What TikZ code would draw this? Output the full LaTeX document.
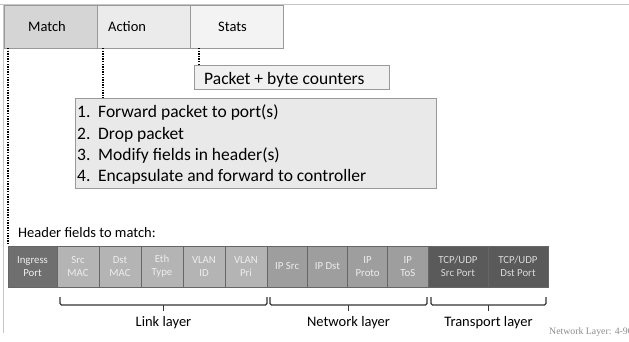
\documentclass[tikz,border=0pt]{standalone}
\usepackage{fontspec}
\setmainfont{Carlito}
\newfontfamily\footfont{Liberation Serif}
\usetikzlibrary{calc}

\definecolor{frameline}{HTML}{C6C6C6}
\definecolor{matchfill}{HTML}{D5D5D5}
\definecolor{actionfill}{HTML}{EBEBEB}
\definecolor{statsfill}{HTML}{F3F3F3}
\definecolor{tabborder}{HTML}{999999}
\definecolor{countfill}{HTML}{F0F0F0}
\definecolor{listfill}{HTML}{E9E9E9}
\definecolor{ingressfill}{HTML}{6F6F6F}
\definecolor{linkfill}{HTML}{B4B4B4}
\definecolor{ipfill}{HTML}{9E9E9E}
\definecolor{tcpfill}{HTML}{5A5A5A}
\definecolor{footgray}{HTML}{8C8C8C}

\tikzset{
  tabcell/.style={draw=tabborder, line width=0.8pt, minimum height=43,
    anchor=north west, inner sep=0, outer sep=0},
  tablabel/.style={anchor=base west, inner sep=0, font=\fontsize{14.5}{17}\selectfont},
  infobox/.style={draw=tabborder, line width=0.8pt, anchor=north west,
    inner sep=0, outer sep=0},
  bigtext/.style={anchor=base west, inner sep=0, font=\fontsize{17.5}{21}\selectfont},
  dotline/.style={line width=1.8pt, dash pattern=on 1.3pt off 1.3pt, black},
  field/.style={fill=#1, draw=black!60, line width=0.7pt, minimum height=41,
    anchor=north west, inner sep=0, outer sep=0, align=center,
    font=\fontsize{10.8}{13}\selectfont, text=white!93!black},
  bracket/.style={draw=black!80, line width=1.1pt, rounded corners=1.5pt},
  layerlabel/.style={anchor=base, inner sep=0, font=\fontsize{14.5}{17}\selectfont},
}

\newcommand\layerbrace[4]{%
  \draw[bracket] (#1) -- ++(0,8) -| (#2);
  \coordinate (#4) at ($(#1)!0.5!(#2)+(0,8)$);
  \draw[bracket] (#4) -- ++(0,6);
  \node[layerlabel] (#4text) at ($(#4)+(0,21)$) {#3};
}

\begin{document}
\begin{tikzpicture}[x=1pt, y=-1pt]
\useasboundingbox (0,0) rectangle (629,341);
\clip (0,0) rectangle (629,341);

% slide frame
\draw[frameline, line width=0.8pt] (0,4.5) -- (629,4.5);
\draw[frameline, line width=0.8pt] (3,4.5) -- (3,333);

% flow table entry
\node[tabcell, fill=matchfill,  minimum width=93] (match)  at (4,5) {};
\node[tabcell, fill=actionfill, minimum width=93] (action) at (match.north east) {};
\node[tabcell, fill=statsfill,  minimum width=93] (stats)  at (action.north east) {};
\node[tablabel] (matchtext)  at (28,31.5)  {Match};
\node[tablabel] (actiontext) at (108,31.5) {Action};
\node[tablabel] (statstext)  at (218,31.5) {Stats};

% counters and action list
\node[infobox, fill=countfill, minimum width=195, minimum height=24] (counters) at (194,65) {};
\node[bigtext] (countertext) at (204,84) {Packet + byte counters};

\node[infobox, fill=listfill, minimum width=361, minimum height=90] (actions) at (75,98) {};
\foreach \n/\txt [count=\i] in {1/Forward packet to port(s), 2/Drop packet,
    3/Modify fields in header(s), 4/Encapsulate and forward to controller}{
  \node[bigtext] (item\i) at (77,{117.7+21.3*(\i-1)})
    {\makebox[21pt][l]{\n.}\txt};
}

% header fields
\node[tablabel] (hdrtext) at (18,237.5) {Header fields to match:};
\node[field=ingressfill, minimum width=49] (ingress) at (8,246) {Ingress\\Port};
\node[field=linkfill, minimum width=42] (srcmac) at (ingress.north east) {Src\\MAC};
\node[field=linkfill, minimum width=42] (dstmac) at (srcmac.north east) {Dst\\MAC};
\node[field=linkfill, minimum width=42] (ethtype) at (dstmac.north east) {Eth\\Type};
\node[field=linkfill, minimum width=42] (vlanid) at (ethtype.north east) {VLAN\\ID};
\node[field=linkfill, minimum width=42] (vlanpri) at (vlanid.north east) {VLAN\\Pri};
\node[field=ipfill, minimum width=40.25] (ipsrc) at (vlanpri.north east) {IP Src};
\node[field=ipfill, minimum width=40.25] (ipdst) at (ipsrc.north east) {IP Dst};
\node[field=ipfill, minimum width=40.25] (ipproto) at (ipdst.north east) {IP\\Proto};
\node[field=ipfill, minimum width=40.25] (iptos) at (ipproto.north east) {IP\\ToS};
\node[field=tcpfill, minimum width=60, text=white!85!black] (tcpsrc) at (iptos.north east) {TCP/UDP\\Src Port};
\node[field=tcpfill, minimum width=60, text=white!85!black] (tcpdst) at (tcpsrc.north east) {TCP/UDP\\Dst Port};

% dotted pointers from the entry columns
\draw[dotline, shorten >=2.5pt] (ingress.north west |- match.south) -- (ingress.north west);
\coordinate (actdrop) at ([xshift=6]action.south west);
\draw[dotline] (actdrop) -- (actdrop |- actions.north);
\coordinate (statdrop) at ([xshift=9]stats.south west);
\draw[dotline] (statdrop) -- (statdrop |- counters.north);

% layer brackets
\coordinate (lkL) at ([xshift=3,yshift=-10]srcmac.south west);
\coordinate (lkR) at ([yshift=-10]vlanpri.south east);
\coordinate (nwL) at ([xshift=3,yshift=-10]ipsrc.south west);
\coordinate (nwR) at ([xshift=-1,yshift=-10]iptos.south east);
\coordinate (tpL) at ([xshift=3,yshift=-10]tcpsrc.south west);
\coordinate (tpR) at ([xshift=-2,yshift=-10]tcpdst.south east);
\layerbrace{lkL}{lkR}{Link layer}{linkmid}
\layerbrace{nwL}{nwR}{Network layer}{netmid}
\layerbrace{tpL}{tpR}{Transport layer}{tranmid}

% footer
\node[anchor=base west, inner sep=0, text=footgray, font=\footfont\fontsize{9.8}{11}\selectfont]
  (foot) at (549,334) {Network Layer: 4-90};
\end{tikzpicture}
\end{document}
